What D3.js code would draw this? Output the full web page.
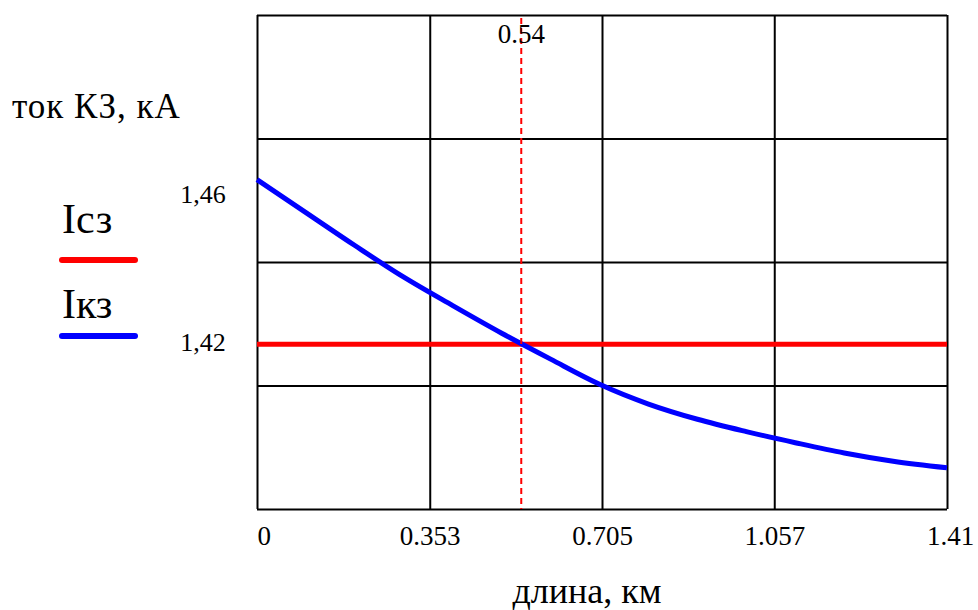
<!DOCTYPE html>
<html>
<head>
<meta charset="utf-8">
<script src="https://cdn.jsdelivr.net/npm/d3@7"></script>
<style>
    body { margin: 0; background: #fff; }
    svg, svg text { font-family: 'Liberation Serif', 'Times New Roman', serif; }
</style>
</head>
<body>
<svg class="chart"></svg>
<script>
// длина линии, км
const lengthKm = [0, 0.1, 0.2, 0.3, 0.4, 0.5, 0.6, 0.7, 0.8, 0.9, 1.0, 1.1, 1.2, 1.3, 1.41];
// ток КЗ, кА
const iKz = [1.46, 1.452, 1.444, 1.4363, 1.4294, 1.4227, 1.4164, 1.4103, 1.4055, 1.4018, 1.3988, 1.3961, 1.3936, 1.3916, 1.390];
// ток срабатывания защиты
const iCz = 1.42;
const crossKm = 0.54;

const xTicks = [0, 0.353, 0.705, 1.057, 1.41];
const xTickLabels = ['0', '0.353', '0.705', '1.057', '1.41'];
const yGrid = [1.38, 1.41, 1.44, 1.47, 1.5];
const yMarks = [1.46, 1.42];
const yMarkLabels = ['1,46', '1,42'];

const margin = { top: 15, right: 31, bottom: 101, left: 257 };
const w = 978;
const h = 610;
const width = w - margin.left - margin.right;
const height = h - margin.top - margin.bottom;

const svg = d3.select('.chart').attr('width', w).attr('height', h);

const x = d3.scaleLinear().domain([0, 1.41]).range([0, width]);
const y = d3.scaleLinear().domain([1.38, 1.5]).range([height, 0]);

const g = svg.append('g')
    .attr('transform', `translate(${margin.left},${margin.top})`);

// сетка
const axisX = d3.axisBottom(x)
    .tickValues(xTicks)
    .tickSize(-height)
    .tickFormat((d, i) => xTickLabels[i]);

const gx = g.append('g')
    .attr('class', 'axis axis-x')
    .attr('transform', `translate(0,${height})`)
    .call(axisX)
    .attr('font-family', null);

gx.select('.domain').remove();
gx.selectAll('line').attr('stroke', '#000').attr('stroke-width', 2);
gx.selectAll('text')
    .attr('y', 36)
    .attr('dy', 0)
    .attr('font-size', 27)
    .attr('fill', '#000')
    .attr('text-anchor', (d, i) => (i === 0 ? 'start' : 'middle'))
    .attr('dx', (d, i) => (i === xTicks.length - 1 ? 3 : 0));

const axisY = d3.axisLeft(y)
    .tickValues(yGrid)
    .tickSize(-width)
    .tickFormat('');

const gy = g.append('g')
    .attr('class', 'axis axis-y')
    .call(axisY);

gy.select('.domain').remove();
gy.selectAll('line').attr('stroke', '#000').attr('stroke-width', 2);

// линии
g.append('line')
    .attr('x1', x(0))
    .attr('x2', x(1.41))
    .attr('y1', y(iCz))
    .attr('y2', y(iCz))
    .attr('stroke', '#ff0000')
    .attr('stroke-width', 5);

const data = lengthKm.map((d, i) => ({ km: d, i: iKz[i] }));

const line = d3.line()
    .x((d) => x(d.km))
    .y((d) => y(d.i))
    .curve(d3.curveMonotoneX);

g.append('path')
    .datum(data)
    .attr('fill', 'none')
    .attr('stroke', '#0000ff')
    .attr('stroke-width', 5)
    .attr('d', line);

g.append('line')
    .attr('x1', x(crossKm))
    .attr('x2', x(crossKm))
    .attr('y1', 3)
    .attr('y2', height)
    .attr('stroke', '#ff0000')
    .attr('stroke-width', 2)
    .attr('stroke-dasharray', '6,4');

g.append('text')
    .attr('x', x(crossKm))
    .attr('y', 28)
    .attr('text-anchor', 'middle')
    .attr('font-size', 27)
    .text(crossKm.toFixed(2));

// метки по оси Y
g.selectAll('.ymark')
    .data(yMarks)
    .enter()
    .append('text')
    .attr('class', 'ymark')
    .attr('x', -54)
    .attr('y', (d, i) => y(d) + (i === 0 ? 23 : 7))
    .attr('text-anchor', 'middle')
    .attr('font-size', 26)
    .text((d, i) => yMarkLabels[i]);

// подписи осей
svg.append('text')
    .attr('x', 12)
    .attr('y', 118)
    .attr('font-size', 35)
    .attr('letter-spacing', 1)
    .text('ток КЗ, кА');

svg.append('text')
    .attr('x', 587)
    .attr('y', 603)
    .attr('text-anchor', 'middle')
    .attr('font-size', 36)
    .text('длина, км');

// легенда
const legend = [
    { name: 'Iсз', color: '#ff0000', ty: 233, ly: 260 },
    { name: 'Iкз', color: '#0000ff', ty: 318, ly: 336 }
];

const leg = svg.selectAll('.legend')
    .data(legend)
    .enter()
    .append('g')
    .attr('class', 'legend');

leg.append('text')
    .attr('x', 62)
    .attr('y', (d) => d.ty)
    .attr('font-size', 42)
    .text((d) => d.name);

leg.append('line')
    .attr('x1', 62)
    .attr('x2', 135)
    .attr('y1', (d) => d.ly)
    .attr('y2', (d) => d.ly)
    .attr('stroke', (d) => d.color)
    .attr('stroke-width', 6)
    .attr('stroke-linecap', 'round');
</script>
</body>
</html>
